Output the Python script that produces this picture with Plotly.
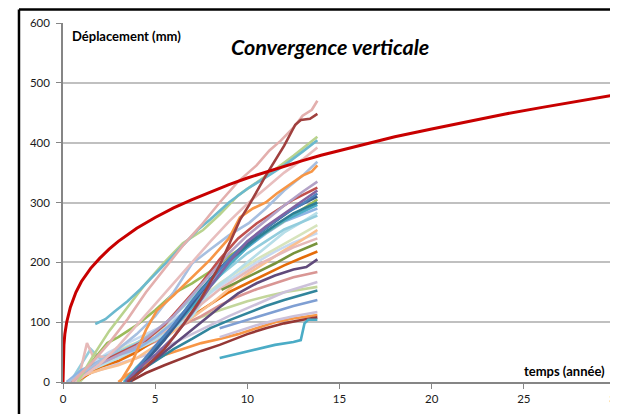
import plotly.graph_objects as go

# ---- data (time in years, displacement in mm) ----
curve_t = [0, 0.02, 0.05, 0.1, 0.2, 0.4, 0.7, 1, 1.5, 2, 2.5, 3, 4, 5, 6, 7, 8, 9, 10, 11, 12, 13, 14, 16, 18, 20, 22, 24, 26, 28, 30]
curve_d = [0, 42, 62, 80, 100, 125, 150, 168, 190, 207, 222, 235, 257, 275, 291, 305, 318, 330, 341, 351, 361, 370, 379, 395, 410, 423, 436, 448, 459, 470, 480]

s_pink1 = [[0.5,0],[1.5,30],[2.5,65],[3.5,105],[4.5,150],[5.5,190],[6.5,228],[7.5,262],[8.5,300],[9.5,335],[10.5,362],[11.2,387],[11.8,403],[12.5,425],[13,445],[13.5,455],[13.8,470]]
s_darkred1 = [[3.5,0],[4.5,25],[5.5,55],[6.5,95],[7.5,140],[8.5,195],[9.6,271],[10.1,296],[11,345],[12,395],[12.6,430],[12.9,438],[13.4,440],[13.8,448]]
s_lgreen1 = [[0.8,0],[1.6,42],[2.5,85],[3.5,125],[4.5,165],[5.5,200],[6.5,232],[7.6,254],[8.5,280],[9.5,312],[10.5,333],[11.5,355],[12.5,378],[13.8,410]]
s_cyan1 = [[1.75,97],[2.3,105],[2.8,118],[3.5,135],[4.2,155],[5,180],[6,212],[7.3,254],[8,272],[9,300],[10,323],[11,342],[12,362],[13,385],[13.8,404]]
s_pink2 = [[0.7,0],[2,30],[3,60],[4,95],[5,130],[6,165],[7,200],[8,235],[9,268],[10,298],[11,324],[12,350],[13,372],[13.8,392]]
s_lblue1 = [[0.3,0],[1.5,25],[3,55],[4,80],[5,110],[6,150],[7,198],[8,222],[9,245],[10.1,266],[11,290],[12,320],[13,345],[13.8,368]]
s_orange1 = [[3.1,0],[3.7,30],[4.5,87],[5.1,120],[6,145],[7,175],[8,205],[9,240],[9.6,275],[10.3,290],[11,300],[11.6,315],[12.3,330],[13,345],[13.5,352],[13.8,362]]
s_lav1 = [[0.5,0],[2,30],[4,60],[6,110],[8,180],[9,215],[10,245],[11,270],[12,295],[13,318],[13.8,335]]
s_red1 = [[0.4,0],[1.5,25],[2.5,40],[3.5,55],[4.5,70],[5.5,95],[6.5,130],[7.5,165],[8.5,205],[9.5,240],[10.5,265],[11.5,285],[12.5,305],[13.8,325]]
s_purple1 = [[3.4,0],[4,20],[5,45],[6,75],[7,115],[8,160],[9,200],[10,235],[11,260],[12,282],[13,303],[13.8,320]]
s_blue1 = [[3.5,0],[4.2,30],[5,60],[6,95],[7,135],[8,170],[9,205],[10,235],[11,258],[12,280],[13,298],[13.8,315]]
s_navy1 = [[3.6,0],[4.5,35],[5.5,70],[6.5,110],[7.5,150],[8.5,190],[9.5,220],[10.5,245],[11.5,268],[12.5,290],[13.8,310]]
s_green1 = [[0.5,0],[1.2,20],[2.4,65],[3,75],[4,95],[5,120],[6,148],[7,165],[8,185],[9,210],[10,230],[11,250],[12,270],[13,290],[13.8,305]]
s_teal1 = [[3.6,0],[4.5,35],[5.5,75],[6.5,115],[7.5,155],[8.5,190],[9.5,215],[10.5,240],[11.5,262],[12.5,282],[13.8,300]]
s_cyan2 = [[3.3,0],[4,25],[5,55],[6,90],[7,125],[8,160],[9,195],[10,225],[11,250],[12,270],[13,285],[13.8,296]]
s_lblue2 = [[0.2,0],[1,20],[2,35],[3,45],[4,55],[5,75],[6,100],[7,130],[8,165],[9,200],[10,225],[11,248],[12,268],[13.8,290]]
s_lcyan1 = [[0.4,0],[1.5,20],[3,40],[5,70],[7,110],[8,150],[9,175],[10,200],[11,225],[12,250],[13,268],[13.8,283]]
s_lcyan2 = [[0.4,0],[1,30],[1.5,55],[2,40],[3,50],[4,65],[5,85],[6,110],[7,140],[7.8,176],[8.2,170],[9,190],[10,215],[11,235],[12,255],[13.8,278]]
s_lgreen2 = [[0.6,0],[1.5,25],[2.5,45],[3.5,60],[4.5,72],[5.5,90],[6.5,112],[7.5,140],[8.5,165],[9.5,185],[10.5,205],[11.5,222],[12.5,240],[13.8,262]]
s_peach1 = [[0.2,0],[1,10],[2,20],[3,28],[4,40],[5,60],[6,85],[7,108],[8,130],[9,155],[10,180],[11,200],[12,220],[13,238],[13.8,254]]
s_pblue1 = [[0.5,0],[1.5,30],[2.5,50],[3.5,65],[4.5,80],[5.5,95],[6.5,115],[7.5,138],[8.5,160],[9.5,180],[10.5,200],[11.5,218],[12.5,233],[13.8,249]]
s_pink3 = [[0.8,0],[1.3,65],[1.6,45],[2.5,40],[3.5,50],[4.5,65],[5.5,85],[6.5,105],[7.5,130],[8.5,155],[9.5,175],[10.5,195],[11.5,210],[12.5,225],[13.8,240]]
s_dgreen1 = [[8.6,154],[9.5,168],[10.5,183],[11.5,198],[12.5,215],[13.8,232]]
s_brown1 = [[0.7,0],[2,25],[3,35],[4,50],[5,70],[6,90],[7,110],[8,130],[9,150],[10,165],[11,180],[12,195],[13,208],[13.8,218]]
s_dpurple1 = [[3.5,0],[4.5,25],[5.5,50],[6.5,75],[7.5,100],[8.5,125],[9.5,148],[10.5,165],[11.5,178],[12.5,188],[13.2,192],[13.8,205]]
s_rose1 = [[0.4,0],[1.5,20],[2.5,35],[3.5,45],[4.5,60],[5.5,75],[6.5,95],[7.5,110],[8.5,128],[9.5,143],[10.5,155],[11.5,165],[12.5,175],[13.8,184]]
s_lav2 = [[0.3,0],[1.5,15],[3,30],[4.5,45],[6,65],[7.5,88],[9,110],[10.5,130],[12,150],[13.8,167]]
s_lgreen3 = [[0.9,0],[2,35],[3,50],[4,62],[5,75],[6,90],[7,102],[8,115],[9,125],[10,135],[11,143],[12,150],[13.8,159]]
s_teal2 = [[3.4,0],[4,15],[5,35],[6,55],[7,72],[8,90],[9,103],[10,115],[11,127],[12,137],[13,146],[13.8,153]]
s_blue2 = [[8.5,90],[9.6,100],[10.5,108],[11.5,118],[12.5,127],[13.8,137]]
s_lav3 = [[8.5,75],[9.5,85],[10.5,95],[11.5,103],[12.5,110],[13.8,117]]
s_orange2 = [[3.0,0],[3.5,12],[4.5,30],[5.5,45],[6.5,55],[7.5,65],[8.5,72],[9.5,80],[10.5,90],[11.5,100],[12.5,106],[13.8,112]]
s_darkred2 = [[3.6,0],[4.5,15],[5.5,28],[6.5,40],[7.5,52],[8.5,62],[9.2,70],[10,80],[11,90],[12,98],[13,104],[13.8,108]]
s_cyan3 = [[8.5,40],[9.5,47],[10.5,55],[11.5,62],[12.5,67],[12.9,70],[13.1,98],[13.3,104],[13.8,104]]

series = [s_lgreen3, s_lav2, s_rose1, s_brown1, s_pblue1, s_peach1, s_lgreen2, s_lcyan1, s_lcyan2, s_pink3,
          s_lblue2, s_green1, s_red1, s_lav1, s_lblue1, s_pink2, s_lgreen1, s_cyan1, s_pink1,
          s_orange2, s_darkred2, s_teal2, s_dpurple1, s_cyan2, s_teal1, s_navy1, s_blue1, s_purple1,
          s_orange1, s_darkred1, s_dgreen1, s_blue2, s_lav3, s_cyan3]
colors = ["#C3D69B", "#CCC1DA", "#D99694", "#E46C0A", "#C6D9F1", "#FAC090", "#D7E4BD", "#B7DEE8", "#93CDDD", "#E6B9B8",
          "#8EB4E3", "#9BBB59", "#C0504D", "#B3A2C7", "#A7BFE0", "#E8BEBE", "#B9D38E", "#6BB9CE", "#E3AFAD",
          "#F79646", "#953735", "#31859C", "#604A7B", "#4BACC6", "#2E7F95", "#376092", "#4F81BD", "#8064A2",
          "#F79646", "#A0403E", "#77933C", "#7F9FD3", "#CCC1DA", "#4BACC6"]

fig = go.Figure()
for pts, col in zip(series, colors):
    fig.add_trace(go.Scatter(x=[p[0] for p in pts], y=[p[1] for p in pts], mode="lines",
                             line=dict(color=col, width=2.6), showlegend=False, hoverinfo="skip"))
fig.add_trace(go.Scatter(x=curve_t, y=curve_d, mode="lines", line=dict(color="#C80000", width=3),
                         showlegend=False, hoverinfo="skip"))

FONT = "Lato"
fig.update_layout(
    width=610, height=406, margin=dict(l=55, r=2, t=15, b=32, autoexpand=False),
    paper_bgcolor="white", plot_bgcolor="white",
    font=dict(family=FONT, color="#1a1a1a", size=11.5),
    xaxis=dict(range=[0, 30], tickvals=[0, 5, 10, 15, 20, 25, 30], showgrid=False, zeroline=False,
               showline=True, linecolor="#868686", linewidth=1.5, ticks="outside", ticklen=5, tickcolor="#868686",
               tickfont=dict(size=11.5, family=FONT), ticklabeloverflow="allow", automargin=False,
               fixedrange=True),
    yaxis=dict(range=[0, 600], tickvals=[0, 100, 200, 300, 400, 500, 600], showgrid=True, gridcolor="#C0C0C0",
               gridwidth=1.5, zeroline=False, showline=True, linecolor="#868686", linewidth=1.5,
               ticks="outside", ticklen=5, tickcolor="#868686", tickfont=dict(size=11.5, family=FONT),
               ticklabelstandoff=4, automargin=False, fixedrange=True),
    annotations=[
        dict(text="<b><i>Convergence verticale</i></b>", xref="paper", yref="paper", x=0.483, y=0.933,
             xanchor="center", yanchor="middle", showarrow=False, font=dict(size=21.5, family=FONT, color="#000000")),
        dict(text="<b>Déplacement (mm)</b>", xref="paper", yref="paper", x=0.012, y=0.964,
             xanchor="left", yanchor="middle", showarrow=False, font=dict(size=13, family=FONT, color="#000000")),
        dict(text="<b>temps (année)</b>", xref="paper", yref="paper", x=0.984, y=0.031,
             xanchor="right", yanchor="middle", showarrow=False, font=dict(size=13, family=FONT, color="#000000")),
    ],
    shapes=[
        dict(type="line", xref="paper", yref="paper", x0=-0.0796, x1=-0.0796, y0=1.0376, y1=-0.12,
             line=dict(color="black", width=2.5)),
        dict(type="line", xref="paper", yref="paper", x0=-0.0796, x1=1.02, y0=1.0376, y1=1.0376,
             line=dict(color="black", width=2.5)),
    ],
)
fig.write_html("out.html")
